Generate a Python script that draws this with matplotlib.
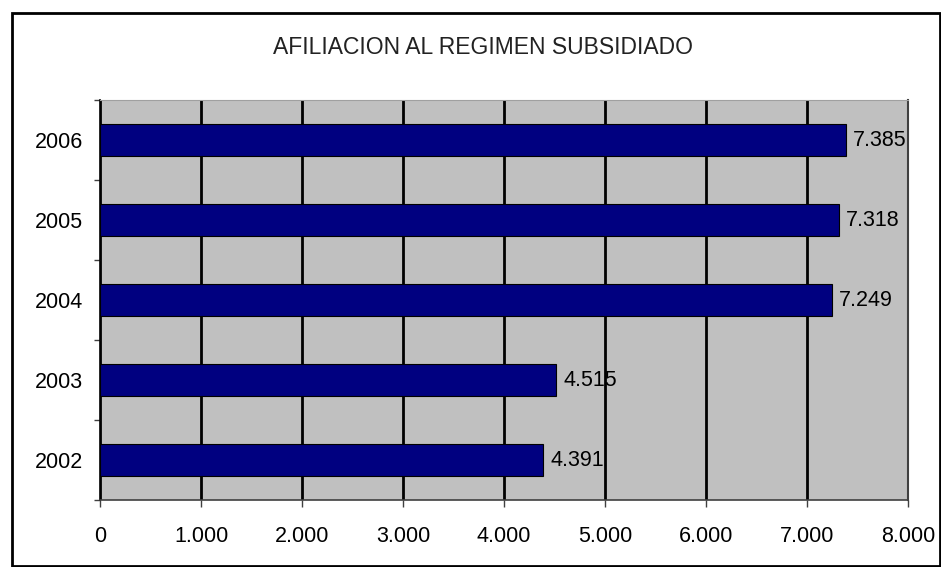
import numpy as np
import matplotlib.pyplot as plt
from matplotlib.patches import Rectangle
from matplotlib.ticker import FuncFormatter, FixedLocator

# data
years = ["2002", "2003", "2004", "2005", "2006"]
values = [4391, 4515, 7249, 7318, 7385]
value_labels = ["4.391", "4.515", "7.249", "7.318", "7.385"]
xticks = [0, 1000, 2000, 3000, 4000, 5000, 6000, 7000, 8000]

W, H = 941, 567
fig = plt.figure(figsize=(W / 100, H / 100), dpi=100)
fig.patch.set_facecolor("white")
plt.rcParams['font.family'] = ['Liberation Sans', 'DejaVu Sans']

# outer chart border
fig.add_artist(Rectangle((11.5 / W, 1.0 / H), (W - 13) / W, (H - 14.5) / H,
                         transform=fig.transFigure, fill=False,
                         edgecolor='black', linewidth=2))

ax = fig.add_axes([100 / W, (H - 500) / H, 808 / W, 400 / H])
ax.set_facecolor("#c0c0c0")

y = np.arange(len(years))
ax.barh(y, values, height=0.41, color="#000080", edgecolor="black",
        linewidth=0.8, zorder=3)
for yi, v, lab in zip(y, values, value_labels):
    ax.text(v + 70, yi, lab, va='center', ha='left', fontsize=15.5, zorder=4)

ax.set_xlim(0, 8000)
ax.set_ylim(-0.5, len(years) - 0.5)
ax.set_xticks(xticks)
ax.xaxis.set_major_formatter(FuncFormatter(lambda v, p: f"{int(v):,}".replace(",", ".")))
ax.grid(axis='x', color='black', linewidth=2, zorder=1)

ax.set_yticks(y)
ax.set_yticklabels(years)
ax.yaxis.set_minor_locator(FixedLocator(np.arange(-0.5, len(years), 1.0)))
ax.tick_params(axis='y', which='major', length=0, pad=12.2, labelsize=15.5)
ax.tick_params(axis='y', which='minor', length=4.3, width=1, color='#404040')
ax.tick_params(axis='x', length=5, width=1, color='#404040', pad=13.5, labelsize=15.5)

ax.spines['left'].set_color('black')
ax.spines['left'].set_linewidth(1.2)
ax.spines['bottom'].set_color('#404040')
ax.spines['bottom'].set_linewidth(1.2)
ax.spines['top'].set_color('#a0a0a0')
ax.spines['right'].set_color('#404040')
ax.spines['right'].set_linewidth(1.5)

fig.text(483 / W, 1 - 47 / H, "AFILIACION AL REGIMEN SUBSIDIADO",
         ha='center', va='center', fontsize=16.5, fontweight='light', color='#222222')

fig.savefig("out.png", dpi=100)
